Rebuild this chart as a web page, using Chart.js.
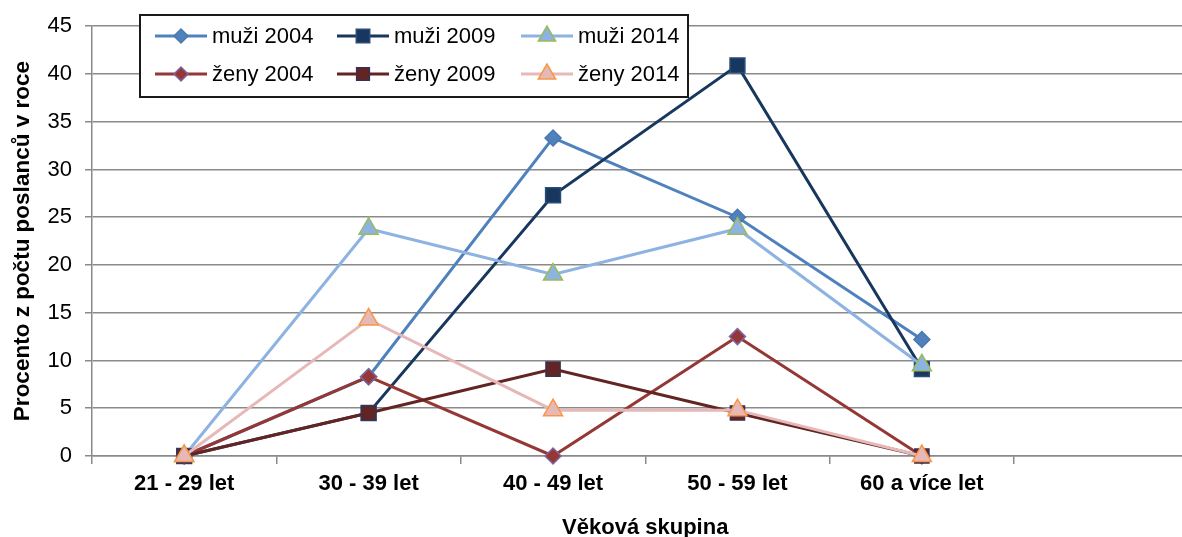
<!DOCTYPE html>
<html>
<head>
<meta charset="utf-8">
<title>Věková skupina</title>
<script src="https://cdn.jsdelivr.net/npm/chart.js@4.4.1/dist/chart.umd.min.js"></script>
<style>
    body { margin: 0; background: #ffffff; overflow: hidden; }
    #wrap { position: relative; width: 1211px; height: 537px; }
</style>
</head>
<body>
<div id="wrap"><canvas id="age-chart" width="1211" height="537"></canvas></div>
<script>
// Data (percent of deputies per year)
const categories = ['21 - 29 let', '30 - 39 let', '40 - 49 let', '50 - 59 let', '60 a více let', ''];
const seriesNames = ['muži 2004', 'muži 2009', 'muži 2014', 'ženy 2004', 'ženy 2009', 'ženy 2014'];
const muzi2004 = [0, 8.3, 33.3, 25.0, 12.2];
const muzi2009 = [0, 4.5, 27.3, 40.9, 9.1];
const muzi2014 = [0, 23.8, 19.0, 23.8, 9.5];
const zeny2004 = [0, 8.3, 0, 12.5, 0];
const zeny2009 = [0, 4.5, 9.1, 4.5, 0];
const zeny2014 = [0, 14.3, 4.8, 4.8, 0];
const yTicks = [0, 5, 10, 15, 20, 25, 30, 35, 40, 45];

const FONT = '"Liberation Sans", Arial, sans-serif';
const GRID = '#8a8a8a';

// line colour, marker fill, marker border, marker shape, marker radius
const styles = [
    { line: '#4f81bd', fill: '#4f81bd', border: '#4a78b0', shape: 'rectRot', r: 8 },
    { line: '#17375e', fill: '#17375e', border: '#2a4c78', shape: 'rect', r: 10.5 },
    { line: '#8db3e2', fill: '#8db3e2', border: '#9bbb59', shape: 'triangle', r: 11 },
    { line: '#953735', fill: '#953735', border: '#8064a2', shape: 'rectRot', r: 8 },
    { line: '#632523', fill: '#632523', border: '#3d2f4f', shape: 'rect', r: 10 },
    { line: '#e6b9b8', fill: '#e6b9b8', border: '#f79646', shape: 'triangle', r: 11 }
];
const seriesData = [muzi2004, muzi2009, muzi2014, zeny2004, zeny2009, zeny2014];

const datasets = seriesNames.map((name, i) => ({
    label: name,
    data: seriesData[i],
    borderColor: styles[i].line,
    backgroundColor: styles[i].fill,
    borderWidth: 3,
    tension: 0,
    pointStyle: styles[i].shape,
    pointRadius: styles[i].r,
    pointHoverRadius: styles[i].r,
    pointBackgroundColor: styles[i].fill,
    pointBorderColor: styles[i].border,
    pointBorderWidth: 1.5,
    clip: false,
    order: seriesNames.length - i   // later series drawn on top, as in the original
}));

// Boxed legend inside the plot, two rows of three
const boxedLegend = {
    id: 'boxedLegend',
    afterDraw(chart) {
        const ctx = chart.ctx;
        const drawPoint = Chart.helpers && Chart.helpers.drawPoint;
        const colX = [155, 337, 521];
        const rowY = [36, 74];
        ctx.save();
        ctx.fillStyle = '#ffffff';
        ctx.fillRect(140, 15, 548, 82);
        ctx.strokeStyle = '#1a1a1a';
        ctx.lineWidth = 2;
        ctx.strokeRect(140, 15, 548, 82);
        seriesNames.forEach((name, i) => {
            const x = colX[i % 3];
            const y = rowY[Math.floor(i / 3)];
            const st = styles[i];
            ctx.strokeStyle = st.line;
            ctx.lineWidth = 3;
            ctx.beginPath();
            ctx.moveTo(x, y);
            ctx.lineTo(x + 52, y);
            ctx.stroke();
            if (drawPoint) {
                ctx.fillStyle = st.fill;
                ctx.strokeStyle = st.border;
                ctx.lineWidth = 1.5;
                drawPoint(ctx, { pointStyle: st.shape, radius: st.r - 1, rotation: 0, borderWidth: 1.5 }, x + 26, y);
            }
            ctx.fillStyle = '#000000';
            ctx.font = '22px ' + FONT;
            ctx.textBaseline = 'middle';
            ctx.textAlign = 'left';
            ctx.fillText(name, x + 57, y + 1);
        });
        ctx.restore();
    }
};

const ctx = document.getElementById('age-chart');
new Chart(ctx, {
    type: 'line',
    data: { labels: categories, datasets: datasets },
    options: {
        responsive: false,
        animation: false,
        layout: { padding: { top: 26, right: 2, left: 0, bottom: 0 } },
        plugins: {
            legend: { display: false },
            tooltip: { enabled: false }
        },
        scales: {
            x: {
                offset: true,
                grid: {
                    offset: true,
                    drawOnChartArea: false,
                    drawTicks: true,
                    tickLength: 8,
                    color: GRID,
                    lineWidth: 1.5
                },
                border: { color: GRID, width: 1.5 },
                ticks: {
                    color: '#000000',
                    padding: 7,
                    maxRotation: 0,
                    autoSkip: false,
                    font: { family: FONT, size: 22, weight: 'bold' }
                },
                title: {
                    display: true,
                    text: 'Věková skupina',
                    color: '#000000',
                    padding: { top: 0, bottom: 0 },
                    font: { family: FONT, size: 22, weight: 'bold', lineHeight: 0.85 }
                },
                afterFit(scale) { scale.height = 81; }
            },
            y: {
                min: 0,
                max: 45,
                afterBuildTicks(scale) { scale.ticks = yTicks.map(v => ({ value: v })); },
                grid: {
                    color: GRID,
                    lineWidth: 1.5,
                    tickLength: 7
                },
                border: { color: GRID, width: 1.5 },
                ticks: {
                    color: '#000000',
                    padding: 13,
                    font: { family: FONT, size: 22 }
                },
                title: {
                    display: true,
                    text: 'Procento z počtu poslanců v roce',
                    color: '#000000',
                    padding: { top: 9, bottom: 0 },
                    font: { family: FONT, size: 22.5, weight: 'bold' }
                },
                afterFit(scale) { scale.width = 92; }
            }
        }
    },
    plugins: [boxedLegend]
});
</script>
</body>
</html>
